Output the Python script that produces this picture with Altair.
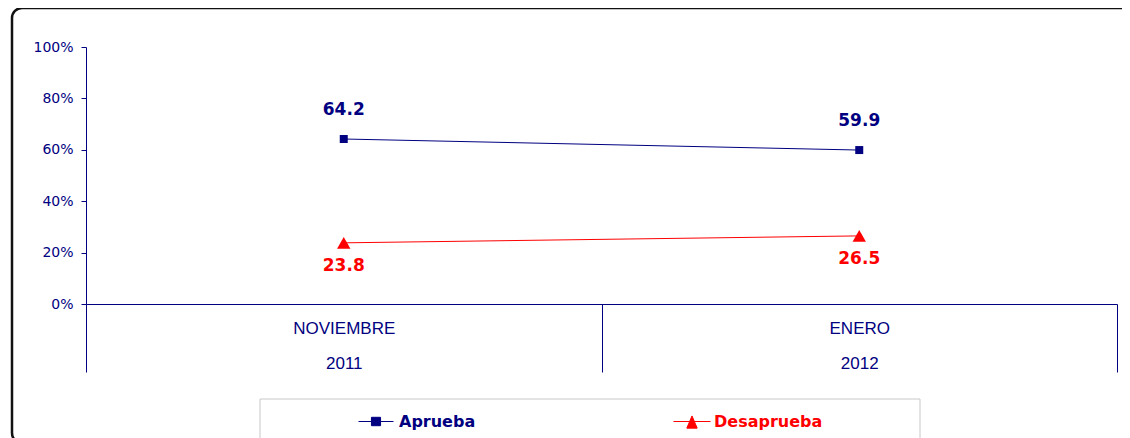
import altair as alt
import pandas as pd

# ---- data ----
meses = ["NOVIEMBRE", "ENERO"]
anios = ["2011", "2012"]
aprueba = [64.2, 59.9]
desaprueba = [23.8, 26.5]
series = ["Aprueba", "Desaprueba"]
y_ticks = [0, 20, 40, 60, 80, 100]

NAVY = "#000080"
RED = "#FF0000"

periodos = [f"{m}|{a}" for m, a in zip(meses, anios)]
df_a = pd.DataFrame({"periodo": periodos, "valor": aprueba, "serie": series[0]})
df_d = pd.DataFrame({"periodo": periodos, "valor": desaprueba, "serie": series[1]})

x_enc = alt.X(
    "periodo:N",
    sort=periodos,
    bandPosition=0.5,
    scale=alt.Scale(type="band", paddingInner=0, paddingOuter=0),
    axis=alt.Axis(
        title=None,
        grid=False,
        labelAngle=0,
        labelExpr="split(datum.label, '|')",
        labelLineHeight=35,
        labelBaseline="top",
        labelFont="Liberation Sans",
        labelFontSize=17,
        labelColor=NAVY,
        labelPadding=-52,
        tickBand="extent",
        tickSize=68,
        tickColor=NAVY,
        domainColor=NAVY,
    ),
)
y_enc = alt.Y(
    "valor:Q",
    scale=alt.Scale(domain=[0, 100], nice=False),
    axis=alt.Axis(
        title=None,
        grid=False,
        values=y_ticks,
        labelExpr="datum.value + '%'",
        labelFont="DejaVu Sans",
        labelFontSize=14,
        labelColor=NAVY,
        labelPadding=8,
        tickSize=5,
        tickColor=NAVY,
        domainColor=NAVY,
    ),
)


def serie_layer(df, name, color, shape, size, dy, lx, ly, sym_path, sym_size, lab_off):
    base = alt.Chart(df)
    line = base.mark_line(strokeWidth=1).encode(
        x=x_enc,
        y=y_enc,
        color=alt.Color(
            "serie:N",
            scale=alt.Scale(domain=[name], range=[color]),
            legend=alt.Legend(
                title=None,
                orient="none",
                legendX=lx,
                legendY=ly,
                padding=0,
                symbolType=sym_path,
                symbolSize=sym_size,
                symbolStrokeWidth=1,
                symbolFillColor=color,
                symbolStrokeColor=color,
                labelColor=color,
                labelFont="DejaVu Sans",
                labelFontSize=16,
                labelFontWeight="bold",
                labelOffset=lab_off,
            ),
        ),
    )
    pts = base.mark_point(shape=shape, size=size, filled=True, color=color, opacity=1).encode(
        x=x_enc, y=y_enc
    )
    txt = base.mark_text(
        font="DejaVu Sans", fontSize=17, fontWeight="bold", color=color, dy=dy
    ).encode(x=x_enc, y=y_enc, text=alt.Text("valor:Q", format=".1f"))
    return alt.layer(line, pts, txt)


layer_a = serie_layer(
    df_a, series[0], NAVY, "square", 64, -29, 272, 356.5,
    "M-1,0H1M-0.26,-0.24H0.26V0.24H-0.26Z", 1225, 5,
)
layer_d = serie_layer(
    df_d, series[1], RED, "triangle-up", 180, 23, 587, 355.5,
    "M-1,0H1M0,-0.3L0.28,0.36H-0.28Z", 1369, 3,
)

one = pd.DataFrame({"k": [0]})
frame = alt.Chart(one).mark_rect(
    fill="transparent", stroke="#111111", strokeWidth=2.5, cornerRadius=10
).encode(x=alt.value(-74), x2=alt.value(1300), y=alt.value(-39), y2=alt.value(396))
legend_box = alt.Chart(one).mark_rect(
    fill="transparent", stroke="#c8c8c8", strokeWidth=1
).encode(x=alt.value(174), x2=alt.value(834), y=alt.value(352), y2=alt.value(430))

chart = (
    alt.layer(frame, legend_box, layer_a, layer_d)
    .resolve_scale(color="independent")
    .properties(
        width=1031,
        height=257,
        autosize="none",
        padding={"left": 78, "top": 39, "right": 5, "bottom": 134},
    )
    .configure_view(stroke=None)
)

chart.save("out.html", embed_options={"renderer": "svg", "actions": False})
